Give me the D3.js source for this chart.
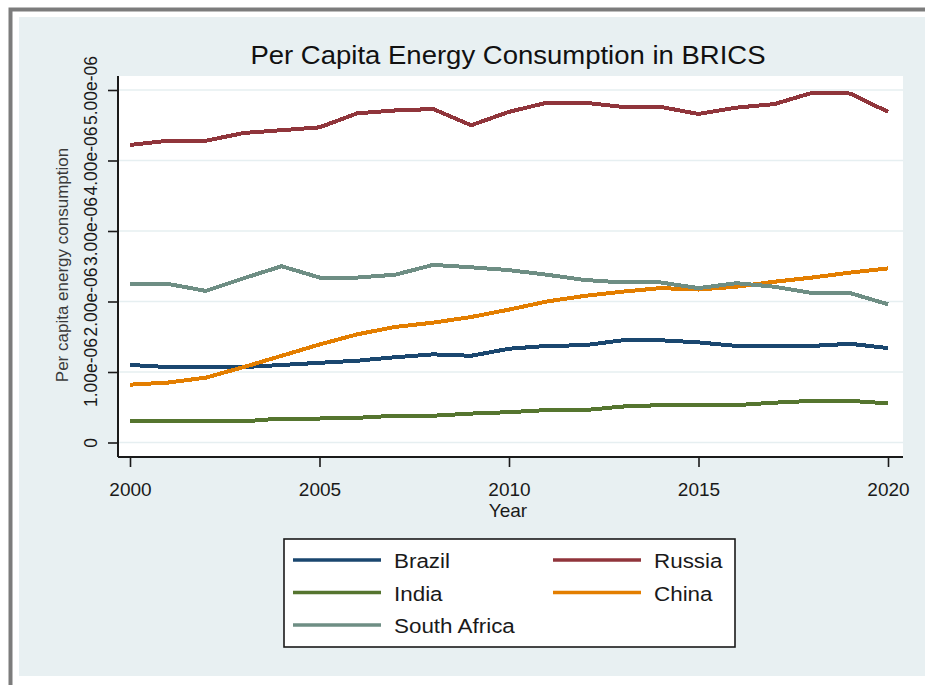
<!DOCTYPE html>
<html>
<head>
<meta charset="utf-8">
<script src="https://cdn.jsdelivr.net/npm/d3@7"></script>
<style>
  html, body { margin: 0; padding: 0; background: #ffffff; }
  svg { display: block; font-family: "Liberation Sans", Arial, sans-serif; }
</style>
</head>
<body>
<svg id="chart" width="925" height="685"></svg>
<script>
// Per capita energy consumption, BRICS countries, 2000-2020
const years = [2000, 2001, 2002, 2003, 2004, 2005, 2006, 2007, 2008, 2009, 2010,
               2011, 2012, 2013, 2014, 2015, 2016, 2017, 2018, 2019, 2020];

const brazil = [1.10e-6, 1.07e-6, 1.07e-6, 1.07e-6, 1.10e-6, 1.13e-6, 1.16e-6, 1.21e-6, 1.25e-6, 1.23e-6, 1.33e-6,
                1.37e-6, 1.38e-6, 1.45e-6, 1.45e-6, 1.42e-6, 1.37e-6, 1.37e-6, 1.37e-6, 1.40e-6, 1.34e-6];
const russia = [4.22e-6, 4.28e-6, 4.28e-6, 4.39e-6, 4.43e-6, 4.47e-6, 4.67e-6, 4.71e-6, 4.73e-6, 4.50e-6, 4.69e-6,
                4.82e-6, 4.82e-6, 4.76e-6, 4.76e-6, 4.66e-6, 4.75e-6, 4.80e-6, 4.96e-6, 4.95e-6, 4.69e-6];
const india = [0.30e-6, 0.30e-6, 0.30e-6, 0.30e-6, 0.34e-6, 0.34e-6, 0.35e-6, 0.38e-6, 0.38e-6, 0.41e-6, 0.43e-6,
               0.46e-6, 0.46e-6, 0.51e-6, 0.53e-6, 0.53e-6, 0.53e-6, 0.565e-6, 0.59e-6, 0.59e-6, 0.556e-6];
const china = [0.82e-6, 0.85e-6, 0.92e-6, 1.07e-6, 1.23e-6, 1.39e-6, 1.535e-6, 1.64e-6, 1.70e-6, 1.78e-6, 1.885e-6,
               2.00e-6, 2.08e-6, 2.14e-6, 2.19e-6, 2.17e-6, 2.21e-6, 2.28e-6, 2.34e-6, 2.41e-6, 2.47e-6];
const southAfrica = [2.25e-6, 2.25e-6, 2.15e-6, 2.33e-6, 2.50e-6, 2.34e-6, 2.34e-6, 2.38e-6, 2.52e-6, 2.485e-6, 2.445e-6,
                     2.38e-6, 2.305e-6, 2.27e-6, 2.27e-6, 2.19e-6, 2.26e-6, 2.21e-6, 2.12e-6, 2.12e-6, 1.96e-6];

const seriesNames = ["Brazil", "Russia", "India", "China", "South Africa"];
const seriesColors = ["#1a476f", "#90353b", "#55752f", "#e37e00", "#6e8e84"];

const yTickValues = [0, 1e-6, 2e-6, 3e-6, 4e-6, 5e-6];
const yTickLabels = ["0", "1.00e-06", "2.00e-06", "3.00e-06", "4.00e-06", "5.00e-06"];
const xTickValues = [2000, 2005, 2010, 2015, 2020];

const chartTitle = "Per Capita Energy Consumption in BRICS";
const xTitle = "Year";
const yTitle = "Per capita energy consumption";

const seriesData = [brazil, russia, india, china, southAfrica];
const series = seriesNames.map((name, i) => ({
  name,
  color: seriesColors[i],
  values: years.map((yr, j) => ({ year: yr, value: seriesData[i][j] }))
}));

const svg = d3.select("#chart");
const W = 925, H = 685;

// horizontal text in this graph is set slightly wide
function widen(sel, factor) {
  sel.each(function () {
    const len = this.getComputedTextLength();
    d3.select(this).attr("textLength", len * factor).attr("lengthAdjust", "spacingAndGlyphs");
  });
}

// outer frame and graph region
svg.append("rect").attr("x", 0).attr("y", 0).attr("width", W).attr("height", H).attr("fill", "#ffffff");
svg.append("rect")
  .attr("x", 10.5).attr("y", 9.5).attr("width", 1000).attr("height", 1000)
  .attr("fill", "none").attr("stroke", "#7c7c7c").attr("stroke-width", 4);
svg.append("rect")
  .attr("x", 19).attr("y", 17).attr("width", W - 19).attr("height", 676 - 17)
  .attr("fill", "#e8f0f2");

// plot region
const plot = { left: 118, right: 903, top: 76, bottom: 457 };
svg.append("rect")
  .attr("x", plot.left).attr("y", plot.top)
  .attr("width", plot.right - plot.left).attr("height", plot.bottom - plot.top)
  .attr("fill", "#ffffff");

const x = d3.scaleLinear().domain([2000, 2020]).range([130, 888]);
const y = d3.scaleLinear().domain([0, 5e-6]).range([442.5, 90]);

// horizontal grid lines
svg.append("g")
  .selectAll("line")
  .data(yTickValues)
  .join("line")
  .attr("x1", plot.left).attr("x2", plot.right)
  .attr("y1", d => y(d)).attr("y2", d => y(d))
  .attr("stroke", "#e6eff1").attr("stroke-width", 1.5);

// series lines
const line = d3.line().x(d => x(d.year)).y(d => y(d.value));
svg.append("g")
  .selectAll("path")
  .data(series)
  .join("path")
  .attr("d", d => line(d.values))
  .attr("fill", "none")
  .attr("stroke", d => d.color)
  .attr("stroke-width", 4)
  .attr("stroke-linejoin", "round")
  .attr("shape-rendering", "crispEdges");

// y axis
const yAxis = d3.axisLeft(y)
  .tickValues(yTickValues)
  .tickFormat((d, i) => yTickLabels[i])
  .tickSize(10)
  .tickSizeOuter(0);
const gy = svg.append("g").attr("transform", `translate(${plot.left},0)`).call(yAxis);
gy.select(".domain").remove();
gy.selectAll(".tick line").attr("stroke", "#1a1a1a").attr("stroke-width", 1.6);
gy.selectAll(".tick text")
  .attr("x", 0).attr("dy", 0)
  .attr("transform", "translate(-21,0) rotate(-90)")
  .attr("text-anchor", "middle")
  .attr("font-size", 17.5)
  .attr("font-family", "Liberation Sans, Arial, sans-serif")
  .attr("fill", "#1a1a1a");
svg.append("line")
  .attr("x1", plot.left).attr("x2", plot.left)
  .attr("y1", plot.top).attr("y2", plot.bottom)
  .attr("stroke", "#1a1a1a").attr("stroke-width", 2);

// x axis
const xAxis = d3.axisBottom(x)
  .tickValues(xTickValues)
  .tickFormat(d3.format("d"))
  .tickSize(10)
  .tickSizeOuter(0);
const gx = svg.append("g").attr("transform", `translate(0,${plot.bottom})`).call(xAxis);
gx.select(".domain").remove();
gx.selectAll(".tick line").attr("stroke", "#1a1a1a").attr("stroke-width", 1.6);
gx.selectAll(".tick text")
  .attr("y", 0).attr("dy", 0)
  .attr("transform", "translate(0,39)")
  .attr("font-size", 19)
  .attr("font-family", "Liberation Sans, Arial, sans-serif")
  .attr("fill", "#1a1a1a");
svg.append("line")
  .attr("x1", plot.left).attr("x2", plot.right)
  .attr("y1", plot.bottom).attr("y2", plot.bottom)
  .attr("stroke", "#1a1a1a").attr("stroke-width", 2);

// axis titles
svg.append("text")
  .attr("x", 508).attr("y", 517)
  .attr("text-anchor", "middle")
  .attr("font-size", 19)
  .attr("fill", "#1a1a1a")
  .text(xTitle);
svg.append("text")
  .attr("transform", "translate(67.5,265) rotate(-90)")
  .attr("text-anchor", "middle")
  .attr("font-size", 17)
  .attr("fill", "#3a3a3a")
  .text(yTitle);

// chart title
svg.append("text")
  .attr("x", 508).attr("y", 64)
  .attr("text-anchor", "middle")
  .attr("font-size", 25)
  .attr("fill", "#111111")
  .text(chartTitle)
  .call(widen, 1.1);

// legend
const legend = svg.append("g");
legend.append("rect")
  .attr("x", 284).attr("y", 539).attr("width", 451).attr("height", 108)
  .attr("fill", "#ffffff").attr("stroke", "#1a1a1a").attr("stroke-width", 1.6);
const legendCols = [293, 553];
const legendRows = [560, 592.5, 625];
const items = legend.selectAll("g.item")
  .data(series)
  .join("g")
  .attr("class", "item")
  .attr("transform", (d, i) => `translate(${legendCols[i % 2]},${legendRows[Math.floor(i / 2)]})`);
items.append("line")
  .attr("x1", 0).attr("x2", 88)
  .attr("y1", 0).attr("y2", 0)
  .attr("stroke", d => d.color)
  .attr("stroke-width", 3.6);
items.append("text")
  .attr("x", 101).attr("y", 8)
  .attr("font-size", 20)
  .attr("fill", "#1a1a1a")
  .text(d => d.name)
  .call(widen, 1.12);
</script>
</body>
</html>
